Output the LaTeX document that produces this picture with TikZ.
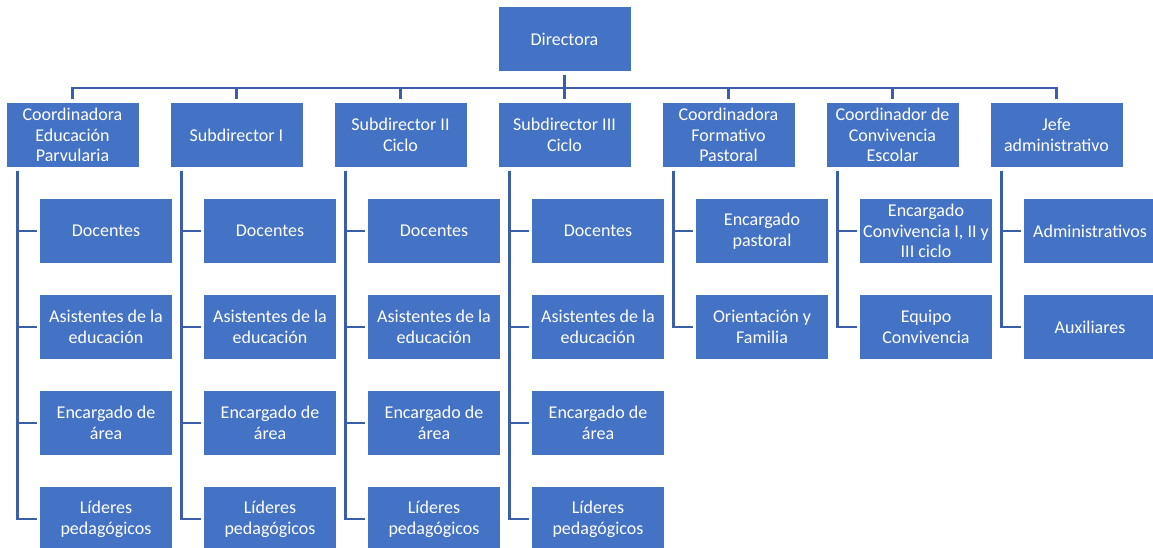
\documentclass[tikz,border=0pt]{standalone}
\usepackage{fontspec}
\setmainfont{Carlito}
\definecolor{boxblue}{RGB}{68,114,196}
\definecolor{lineblue}{RGB}{59,94,168}
\tikzset{
  orgbox/.style={rectangle, fill=boxblue, draw=white, line width=1pt,
    minimum width=133pt, minimum height=65pt, inner sep=1pt,
    text=white, align=center, font=\fontsize{18}{20.6}\selectfont},
  conn/.style={draw=lineblue, line width=2.6pt, shorten <=3pt, shorten >=2.5pt}
}
\begin{document}
\begin{tikzpicture}[x=1pt,y=-1pt]
\useasboundingbox (0,0) rectangle (1153,548);
\clip (0,0) rectangle (1153,548);
\fill[white] (0,0) rectangle (1153,548);
\node[orgbox] (dir) at (564.5,39) {Directora};
\node[orgbox] (p1) at (72.5,135) {Coordinadora\\Educación\\Parvularia};
\node[orgbox] (p2) at (236.5,135) {Subdirector I};
\node[orgbox] (p3) at (400.5,135) {Subdirector II\\Ciclo};
\node[orgbox] (p4) at (564.5,135) {Subdirector III\\Ciclo};
\node[orgbox] (p5) at (728.5,135) {Coordinadora\\Formativo\\Pastoral};
\node[orgbox] (p6) at (892.5,135) {Coordinador de\\Convivencia\\Escolar};
\node[orgbox] (p7) at (1056.5,135) {Jefe\\administrativo};
\foreach \k/\x in {1/72.5,2/236.5,3/400.5,4/564.5}{
  \node[orgbox] (c\k-1) at (\x+33.5,231) {Docentes};
  \node[orgbox] (c\k-2) at (\x+33.5,327) {Asistentes de la\\educación};
  \node[orgbox] (c\k-3) at (\x+33.5,423) {Encargado de\\área};
  \node[orgbox] (c\k-4) at (\x+33.5,519) {Líderes\\pedagógicos};
}
\node[orgbox] (c5-1) at (762,231) {Encargado\\pastoral};
\node[orgbox] (c5-2) at (762,327) {Orientación y\\Familia};
\node[orgbox] (c6-1) at (926,231) {Encargado\\Convivencia I, II y\\III ciclo};
\node[orgbox] (c6-2) at (926,327) {Equipo\\Convivencia};
\node[orgbox] (c7-1) at (1090,231) {Administrativos};
\node[orgbox] (c7-2) at (1090,327) {Auxiliares};
% top bus
\foreach \k in {1,...,7}{
  \draw[conn] (dir.south) -- ++(0,16) -| (p\k.north);
}
% children connectors
\foreach \k in {1,2,3,4}{
  \foreach \j in {1,2,3,4}{
    \draw[conn] ([xshift=12pt]p\k.south west) |- (c\k-\j.west);
  }
}
\foreach \k in {5,6,7}{
  \foreach \j in {1,2}{
    \draw[conn] ([xshift=12pt]p\k.south west) |- (c\k-\j.west);
  }
}
\end{tikzpicture}
\end{document}
